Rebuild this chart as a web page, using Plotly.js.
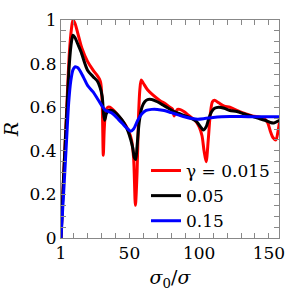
<!DOCTYPE html>
<html>
<head>
<meta charset="utf-8">
<script src="https://cdn.plot.ly/plotly-3.0.1.min.js"></script>
<style>html,body{margin:0;padding:0;background:#fff;}#chart{width:291px;height:291px;}</style>
</head>
<body>
<div id="chart"></div>
<script>
const legendLabels = ["\u03b3 = 0.015", "0.05", "0.15"];

const redX = [1, 3, 5, 7, 8.5, 9.6, 11, 13, 16, 20, 24, 27, 28.5, 29.5, 30.5, 31.3, 32, 33, 34.5, 36, 38, 41, 44, 47, 49.5, 51.5, 53, 54.3, 55.5, 56.5, 57.5, 58.5, 60, 63, 67, 72, 76, 79, 81, 82, 83, 84.5, 86, 89, 93, 97, 100, 102, 103.5, 105, 106.5, 108, 109.5, 111, 114, 118, 122, 127, 133, 138, 143, 146, 149, 151, 153, 155, 156.5, 157.5];
const redR = [0, 0.3, 0.58, 0.85, 0.96, 1.0, 0.985, 0.94, 0.87, 0.81, 0.77, 0.745, 0.73, 0.71, 0.62, 0.38, 0.5, 0.58, 0.6, 0.6, 0.59, 0.57, 0.545, 0.52, 0.49, 0.45, 0.37, 0.15, 0.3, 0.55, 0.68, 0.725, 0.71, 0.68, 0.655, 0.63, 0.615, 0.6, 0.59, 0.56, 0.575, 0.59, 0.59, 0.58, 0.56, 0.54, 0.51, 0.47, 0.40, 0.35, 0.45, 0.57, 0.625, 0.632, 0.62, 0.605, 0.6, 0.585, 0.57, 0.56, 0.555, 0.55, 0.53, 0.49, 0.46, 0.45, 0.49, 0.53];

const blackX = [1, 3, 5, 7, 8.5, 9.6, 11, 13, 15.3, 20, 24, 27, 29, 30.5, 31.5, 32.3, 33.5, 35, 37.5, 40, 43, 46, 49, 51, 52.5, 53.5, 54.5, 55.5, 57, 59, 61, 63, 66, 70, 74, 78, 82, 86, 90, 94, 98, 101, 103, 105, 107, 109, 111, 114, 118, 122, 127, 132, 137, 142, 147, 151, 153.5, 156, 157.5];
const blackR = [0, 0.3, 0.56, 0.8, 0.9, 0.93, 0.92, 0.89, 0.855, 0.77, 0.74, 0.72, 0.69, 0.65, 0.57, 0.54, 0.57, 0.585, 0.585, 0.575, 0.555, 0.53, 0.49, 0.45, 0.41, 0.37, 0.36, 0.42, 0.53, 0.6, 0.625, 0.635, 0.635, 0.625, 0.61, 0.595, 0.58, 0.57, 0.56, 0.55, 0.535, 0.51, 0.495, 0.51, 0.55, 0.58, 0.595, 0.6, 0.595, 0.585, 0.58, 0.57, 0.56, 0.55, 0.54, 0.53, 0.528, 0.535, 0.54];

const blueX = [1, 3, 5, 6.5, 8, 9.5, 11, 11.7, 13.2, 16.9, 20, 24, 27, 29, 31, 33, 35, 37, 39, 42, 45, 48, 51, 53, 56, 59, 62, 66, 70, 75, 80, 85, 90, 95, 99, 104, 110, 116, 122, 130, 140, 150, 157.5];
const blueR = [0, 0.22, 0.45, 0.62, 0.72, 0.77, 0.785, 0.785, 0.78, 0.74, 0.70, 0.67, 0.64, 0.62, 0.60, 0.585, 0.58, 0.575, 0.565, 0.545, 0.525, 0.505, 0.49, 0.5, 0.54, 0.57, 0.585, 0.59, 0.59, 0.585, 0.575, 0.565, 0.555, 0.548, 0.545, 0.548, 0.553, 0.556, 0.557, 0.557, 0.556, 0.556, 0.556];

const xTickVals = [1, 50, 100, 150];
const xTickText = ["1", "50", "100", "150"];
const xMinorVals = [10, 20, 30, 40, 60, 70, 80, 90, 110, 120, 130, 140];
const yTickVals = [0, 0.2, 0.4, 0.6, 0.8, 1];
const yTickText = ["0", "0.2", "0.4", "0.6", "0.8", "1"];
const yMinorVals = [0.05, 0.1, 0.15, 0.25, 0.3, 0.35, 0.45, 0.5, 0.55, 0.65, 0.7, 0.75, 0.85, 0.9, 0.95];

const FONT = "DejaVu Serif";
const mk = (x, y, name, color) => ({
  x: x, y: y, name: name, type: 'scatter', mode: 'lines',
  line: {color: color, width: 3, shape: 'spline', smoothing: 0.8}
});

const data = [
  mk(redX, redR, legendLabels[0], '#ff0000'),
  mk(blackX, blackR, legendLabels[1], '#000000'),
  mk(blueX, blueR, legendLabels[2], '#0000ff')
];

const axisCommon = {
  showgrid: false, zeroline: false, showline: true, linecolor: '#888', linewidth: 1,
  mirror: 'ticks', ticks: 'inside', ticklen: 5, tickcolor: '#888', tickwidth: 1,
  tickfont: {family: FONT, size: 17, color: '#000'}
};

const layout = {
  width: 291, height: 291,
  margin: {l: 61, r: 12, t: 20, b: 53},
  paper_bgcolor: '#fff', plot_bgcolor: '#fff',
  showlegend: true,
  legend: {x: 0.39, y: 0.39, xanchor: 'left', yanchor: 'top', bgcolor: 'rgba(0,0,0,0)',
           font: {family: FONT, size: 17, color: '#000'}, tracegroupgap: 0},
  xaxis: Object.assign({}, axisCommon, {
    range: [1, 157.2], tickmode: 'array', tickvals: xTickVals, ticktext: xTickText,
    minor: {tickmode: 'array', tickvals: xMinorVals, ticks: 'inside', ticklen: 5, tickcolor: '#888'},
    title: {text: '<i>σ</i><sub>0</sub>/<i>σ</i>', font: {family: FONT, size: 19, color: '#000'}, standoff: 8}
  }),
  yaxis: Object.assign({}, axisCommon, {
    range: [0, 1], tickmode: 'array', tickvals: yTickVals, ticktext: yTickText,
    minor: {tickmode: 'array', tickvals: yMinorVals, ticks: 'inside', ticklen: 5, tickcolor: '#888'},
    title: {text: '<i>R</i>', font: {family: FONT, size: 19, color: '#000'}, standoff: 8}
  })
};

Plotly.newPlot('chart', data, layout, {displayModeBar: false, staticPlot: true});
</script>
</body>
</html>
